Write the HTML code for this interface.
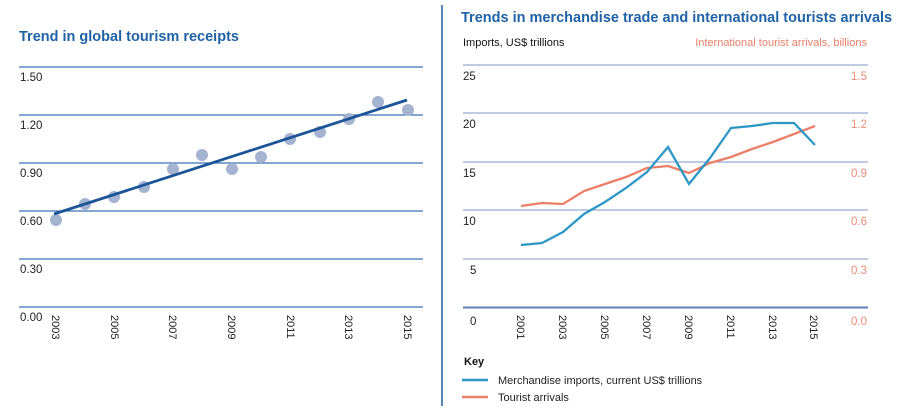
<!DOCTYPE html>
<html><head><meta charset="utf-8"><style>
html,body{margin:0;padding:0;background:#fff;}
svg{display:block;font-family:"Liberation Sans",Arial,sans-serif;}
</style></head><body>
<svg width="900" height="410" viewBox="0 0 900 410" xmlns="http://www.w3.org/2000/svg">
<text x="19" y="41" font-size="14.5" font-weight="bold" fill="#1f62a6">Trend in global tourism receipts</text>
<g stroke="#3a72b4" stroke-width="1.2">
<line x1="19" x2="423" y1="67" y2="67"/><line x1="19" x2="423" y1="115" y2="115"/>
<line x1="19" x2="423" y1="163" y2="163"/><line x1="19" x2="423" y1="211" y2="211"/>
<line x1="19" x2="423" y1="259" y2="259"/><line x1="19" x2="423" y1="307" y2="307"/>
</g>
<g font-size="11.5" fill="#222">
<text x="20" y="81">1.50</text><text x="20" y="129">1.20</text><text x="20" y="177">0.90</text>
<text x="20" y="225">0.60</text><text x="20" y="273">0.30</text><text x="20" y="321">0.00</text>
</g>
<g font-size="11" fill="#222">
<text transform="translate(52,315) rotate(90)">2003</text>
<text transform="translate(111,315) rotate(90)">2005</text>
<text transform="translate(169,315) rotate(90)">2007</text>
<text transform="translate(228,315) rotate(90)">2009</text>
<text transform="translate(287,315) rotate(90)">2011</text>
<text transform="translate(345,315) rotate(90)">2013</text>
<text transform="translate(404,315) rotate(90)">2015</text>
</g>
<g fill="#a3b3d0">
<circle cx="56" cy="220" r="6"/><circle cx="85" cy="204" r="6"/><circle cx="114" cy="197" r="6"/>
<circle cx="144" cy="187" r="6"/><circle cx="173" cy="169" r="6"/><circle cx="202" cy="155" r="6"/>
<circle cx="232" cy="169" r="6"/><circle cx="261" cy="157" r="6"/><circle cx="290" cy="139" r="6"/>
<circle cx="320" cy="132" r="6"/><circle cx="349" cy="119" r="6"/><circle cx="378" cy="102" r="6"/>
<circle cx="408" cy="110" r="6"/>
</g>
<line x1="54" y1="214" x2="407" y2="100" stroke="#1b5597" stroke-width="2.8"/>

<line x1="442" y1="5" x2="442" y2="406" stroke="#1f5fa0" stroke-width="1.5"/>

<text x="461" y="22" font-size="14.5" font-weight="bold" fill="#1f62a6">Trends in merchandise trade and international tourists arrivals</text>
<text x="463" y="46" font-size="11" fill="#111">Imports, US$ trillions</text>
<text x="867" y="46" font-size="11" fill="#e8806a" text-anchor="end">International tourist arrivals, billions</text>
<g stroke="#7f97c4" stroke-width="1">
<line x1="463" x2="868" y1="65" y2="65"/><line x1="463" x2="868" y1="113" y2="113"/>
<line x1="463" x2="868" y1="162" y2="162"/><line x1="463" x2="868" y1="210" y2="210"/>
<line x1="463" x2="868" y1="259" y2="259"/>
</g>
<line x1="463" x2="868" y1="307.5" y2="307.5" stroke="#5d7fb5" stroke-width="2"/>
<g font-size="11.5" fill="#222">
<text x="463" y="80">25</text><text x="463" y="128">20</text><text x="463" y="177">15</text>
<text x="463" y="225">10</text><text x="470" y="274">5</text><text x="470" y="325">0</text>
</g>
<g font-size="11.5" fill="#ec8c78" text-anchor="end">
<text x="867" y="80">1.5</text><text x="867" y="128">1.2</text><text x="867" y="177">0.9</text>
<text x="867" y="225">0.6</text><text x="867" y="274">0.3</text><text x="867" y="325">0.0</text>
</g>
<g font-size="11" fill="#222">
<text transform="translate(517,315) rotate(90)">2001</text>
<text transform="translate(559,315) rotate(90)">2003</text>
<text transform="translate(601,315) rotate(90)">2005</text>
<text transform="translate(643,315) rotate(90)">2007</text>
<text transform="translate(685,315) rotate(90)">2009</text>
<text transform="translate(727,315) rotate(90)">2011</text>
<text transform="translate(769,315) rotate(90)">2013</text>
<text transform="translate(810,315) rotate(90)">2015</text>
</g>
<polyline fill="none" stroke="#ec7f68" stroke-width="2.3" points="521,206 542,203 563,204 584,191 605,184 626,177 647,168 668,166 689,173 710,163 731,157 752,149 773,142 794,134 815,126"/>
<polyline fill="none" stroke="#2e97c6" stroke-width="2.3" points="521,245 542,243 563,232 584,214 605,202 626,188 647,172 668,147 689,184 710,158 731,128 752,126 773,123 794,123 815,145"/>

<text x="464" y="365" font-size="11" font-weight="bold" fill="#111">Key</text>
<line x1="462" y1="380" x2="488" y2="380" stroke="#2e97c6" stroke-width="2.5"/>
<text x="498" y="384" font-size="11" fill="#222">Merchandise imports, current US$ trillions</text>
<line x1="462" y1="397" x2="488" y2="397" stroke="#ec7f68" stroke-width="2.5"/>
<text x="498" y="401" font-size="11" fill="#222">Tourist arrivals</text>
</svg>
</body></html>
